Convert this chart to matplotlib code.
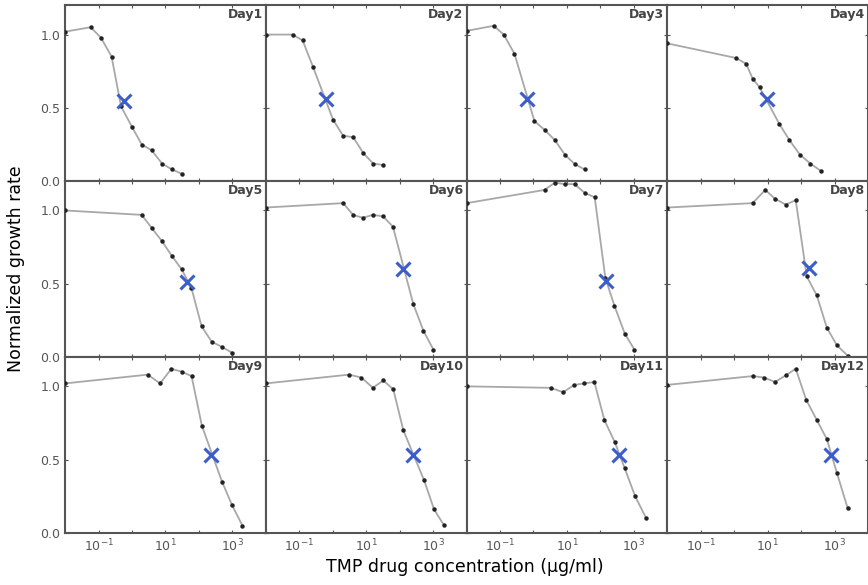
import numpy as np
import matplotlib
matplotlib.use('Agg')
import matplotlib.pyplot as plt
from matplotlib.ticker import FixedLocator, NullFormatter

# concentration (ug/ml) and normalized growth for each day
days = ['Day1', 'Day2', 'Day3', 'Day4', 'Day5', 'Day6',
        'Day7', 'Day8', 'Day9', 'Day10', 'Day11', 'Day12']

conc = [
  [0.01, 0.058, 0.117, 0.245, 0.47, 1.0, 1.95, 3.9, 7.9, 15.5, 31],
  [0.01, 0.063, 0.126, 0.257, 1.02, 2.04, 4.07, 8.3, 16.2, 32.4],
  [0.01, 0.065, 0.129, 0.27, 1.07, 2.14, 4.37, 8.7, 17.4, 33.9],
  [0.01, 1.15, 2.29, 3.55, 5.75, 22.4, 44.7, 93, 190, 389],
  [0.01, 1.95, 3.9, 7.9, 15.5, 30.2, 60, 120, 240, 479, 977],
  [0.01, 2.04, 4.07, 7.9, 15.8, 31.6, 63, 257, 513, 1023],
  [0.01, 2.14, 4.37, 8.5, 17.0, 33.9, 67.6, 141, 263, 537, 1047],
  [0.01, 3.55, 8.5, 16.6, 34.7, 69.2, 148, 295, 589, 1175, 2455],
  [0.01, 2.95, 6.9, 15.1, 30.2, 60.3, 123, 490, 977, 1995],
  [0.01, 3.09, 7.24, 15.8, 32.4, 64.6, 129, 537, 1072, 2089],
  [0.01, 3.24, 7.76, 16.6, 33.1, 66.1, 132, 269, 537, 1096, 2291],
  [0.01, 3.55, 7.9, 16.6, 34.7, 69.2, 141, 295, 589, 1175, 2455],
]

growth = [
  [1.02, 1.05, 0.98, 0.85, 0.51, 0.37, 0.25, 0.21, 0.12, 0.08, 0.05],
  [1.0, 1.0, 0.96, 0.78, 0.42, 0.31, 0.30, 0.19, 0.12, 0.11],
  [1.025, 1.06, 1.0, 0.87, 0.41, 0.35, 0.28, 0.18, 0.115, 0.08],
  [0.94, 0.84, 0.80, 0.70, 0.64, 0.39, 0.28, 0.18, 0.12, 0.07],
  [1.0, 0.97, 0.88, 0.79, 0.69, 0.60, 0.47, 0.21, 0.105, 0.07, 0.03],
  [1.02, 1.05, 0.97, 0.95, 0.97, 0.96, 0.89, 0.36, 0.18, 0.05],
  [1.05, 1.14, 1.19, 1.18, 1.18, 1.12, 1.09, 0.54, 0.35, 0.16, 0.05],
  [1.02, 1.05, 1.14, 1.08, 1.04, 1.07, 0.55, 0.42, 0.20, 0.08, 0.01],
  [1.02, 1.08, 1.02, 1.12, 1.10, 1.07, 0.73, 0.35, 0.19, 0.05],
  [1.02, 1.08, 1.06, 0.99, 1.04, 0.98, 0.70, 0.36, 0.16, 0.055],
  [1.0, 0.99, 0.96, 1.01, 1.02, 1.03, 0.77, 0.62, 0.44, 0.25, 0.105],
  [1.01, 1.07, 1.06, 1.03, 1.075, 1.12, 0.91, 0.77, 0.64, 0.41, 0.17],
]

# IC50 marks (blue X)
ic50_x = [0.59, 0.65, 0.65, 9.5, 42.7, 126, 148, 174, 229, 251, 372, 794]
ic50_y = [0.55, 0.56, 0.56, 0.56, 0.515, 0.60, 0.52, 0.61, 0.53, 0.53, 0.53, 0.53]

frame_c = '#555555'

fig, axes = plt.subplots(3, 4, figsize=(8.68, 5.85), dpi=100, sharex=True, sharey=True)
plt.subplots_adjust(left=0.075, right=1.0, top=0.991, bottom=0.089, wspace=0, hspace=0)

for i, ax in enumerate(axes.flat):
  ax.plot(conc[i], growth[i], '-', color='#a8a8a8', linewidth=1.3, zorder=2)
  ax.plot(conc[i], growth[i], 'o', color='#222222', markersize=2.2, zorder=3)
  ax.plot(ic50_x[i], ic50_y[i], 'x', color='#3d5ec9', markersize=10, markeredgewidth=2.2, zorder=4)
  ax.text(0.985, 0.985, days[i], transform=ax.transAxes, ha='right', va='top',
          fontsize=9, color='#444444', fontweight='bold')

  ax.set_xscale('log')
  ax.set_xlim(0.01, 10000)
  ax.set_ylim(0, 1.2)
  ax.xaxis.set_major_locator(FixedLocator([0.1, 10, 1000]))
  ax.xaxis.set_minor_locator(FixedLocator([0.01, 1, 100, 10000]))
  ax.xaxis.set_minor_formatter(NullFormatter())
  ax.set_yticks([0.0, 0.5, 1.0])
  ax.set_xticklabels(['$10^{-1}$', '$10^{1}$', '$10^{3}$'])
  ax.set_yticklabels(['0.0', '0.5', '1.0'])
  ax.tick_params(which='both', direction='in', length=2.5, width=0.8, colors=frame_c,
                 labelsize=9, top=True, right=True)
  for s in ax.spines.values():
    s.set_color(frame_c)
    s.set_linewidth(1.5)

fig.text(0.535, 0.03, 'TMP drug concentration (\u00b5g/ml)', ha='center', va='center', fontsize=12.5)
fig.text(0.018, 0.54, 'Normalized growth rate', ha='center', va='center', rotation=90, fontsize=12.5)

plt.savefig('out.png')
